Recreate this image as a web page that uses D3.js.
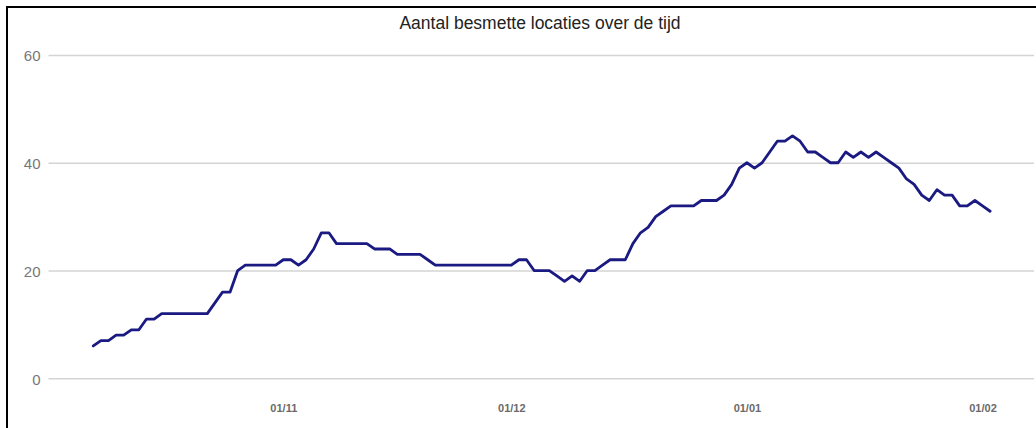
<!DOCTYPE html>
<html>
<head>
<meta charset="utf-8">
<script src="https://cdn.jsdelivr.net/npm/d3@7"></script>
<style>
  html, body { margin: 0; padding: 0; background: #fff; }
  svg { display: block; font-family: "Liberation Sans", Arial, sans-serif; }
</style>
</head>
<body>
<svg id="chart" width="1036" height="428"></svg>
<script>
// Aantal besmette locaties — daily count, 7 Oct 2020 .. 2 Feb 2021
const startDate = "2020-10-07";
const counts = [
  6, 7, 7, 8, 8, 9, 9, 11, 11, 12,
  12, 12, 12, 12, 12, 12, 14, 16, 16, 20,
  21, 21, 21, 21, 21, 22, 22, 21, 22, 24,
  27, 27, 25, 25, 25, 25, 25, 24, 24, 24,
  23, 23, 23, 23, 22, 21, 21, 21, 21, 21,
  21, 21, 21, 21, 21, 21, 22, 22, 20, 20,
  20, 19, 18, 19, 18, 20, 20, 21, 22, 22,
  22, 25, 27, 28, 30, 31, 32, 32, 32, 32,
  33, 33, 33, 34, 36, 39, 40, 39, 40, 42,
  44, 44, 45, 44, 42, 42, 41, 40, 40, 42,
  41, 42, 41, 42, 41, 40, 39, 37, 36, 34,
  33, 35, 34, 34, 32, 32, 33, 32, 31
];
const yTicks = [0, 20, 40, 60];
const xTickDates = ["2020-11-01", "2020-12-01", "2021-01-01", "2021-02-01"];
const title = "Aantal besmette locaties over de tijd";

const svg = d3.select("#chart");
const W = 1036, H = 428;

const t0 = new Date(startDate + "T00:00:00Z");
const points = counts.map((v, i) => ({ date: d3.utcDay.offset(t0, i), value: v }));

const x = d3.scaleUtc()
  .domain([new Date("2020-11-01T00:00:00Z"), new Date("2021-02-01T00:00:00Z")])
  .range([283.3, 982.5]);
const y = d3.scaleLinear().domain([0, 60]).range([378.3, 55]);

// frame
svg.append("rect").attr("x", 0).attr("y", 0).attr("width", W).attr("height", H).attr("fill", "#fff");
svg.append("rect")
  .attr("x", 7).attr("y", 7).attr("width", W + 20).attr("height", H + 20)
  .attr("fill", "none").attr("stroke", "#000").attr("stroke-width", 2);

// title
svg.append("text")
  .attr("x", 540).attr("y", 29)
  .attr("text-anchor", "middle")
  .attr("font-size", 17.5)
  .attr("fill", "#222")
  .text(title);

// y gridlines + labels
const yAxis = d3.axisLeft(y).tickValues(yTicks).tickSize(-(1034 - 48.5)).tickPadding(8);
const yg = svg.append("g").attr("transform", "translate(48.5,0)").call(yAxis);
yg.select(".domain").remove();
yg.selectAll(".tick line").attr("stroke", "#d4d4d4").attr("stroke-width", 1.5);
yg.selectAll(".tick text")
  .attr("x", -8).attr("dy", "0.38em")
  .attr("font-size", 15).attr("fill", "#777")
  .attr("font-family", "'Liberation Sans', Arial, sans-serif");

// x labels
const xAxis = d3.axisBottom(x)
  .tickValues(xTickDates.map(s => new Date(s + "T00:00:00Z")))
  .tickFormat(d3.utcFormat("%d/%m"))
  .tickSize(0).tickPadding(0);
const xg = svg.append("g").attr("transform", "translate(0,404)").call(xAxis);
xg.select(".domain").remove();
xg.selectAll(".tick text")
  .attr("dy", "0.71em")
  .attr("font-size", 11).attr("font-weight", "bold").attr("fill", "#6a6a6a")
  .attr("font-family", "'Liberation Sans', Arial, sans-serif");

// line
const line = d3.line().x(d => x(d.date)).y(d => y(d.value));
svg.append("path")
  .datum(points)
  .attr("d", line)
  .attr("fill", "none")
  .attr("stroke", "#1a1a82")
  .attr("stroke-width", 2.8)
  .attr("stroke-linejoin", "round")
  .attr("stroke-linecap", "round");
</script>
</body>
</html>
